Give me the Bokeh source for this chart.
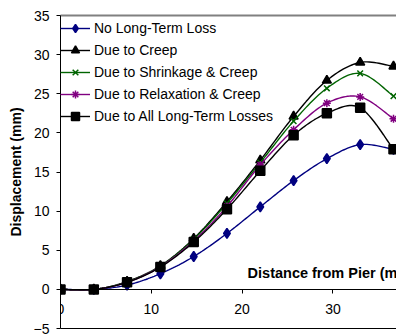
from bokeh.plotting import figure
from bokeh.models import LinearAxis, FixedTicker, Label, Legend, LegendItem
from bokeh.embed import file_html
from bokeh.resources import INLINE
import numpy as np

# ---- data ----
distance = [0, 3.67, 7.33, 11.0, 14.67, 18.33, 22.0, 25.67, 29.33, 33.0, 36.67]
no_loss = [0, 0, 0.55, 2.0, 4.2, 7.15, 10.55, 13.9, 16.7, 18.5, 17.9]
creep = [0, 0, 1.0, 3.0, 6.5, 11.2, 16.5, 22.1, 26.7, 29.0, 28.5]
shrink_creep = [0, 0, 0.95, 2.95, 6.4, 11.0, 16.2, 21.5, 25.7, 27.6, 24.7]
relax_creep = [0, 0, 0.9, 2.9, 6.2, 10.6, 15.9, 20.4, 23.8, 24.6, 21.8]
all_losses = [0, 0, 0.9, 2.85, 6.05, 10.25, 15.15, 19.7, 22.5, 23.2, 17.9]
x_ticks = [0, 10, 20, 30]
y_ticks = [-5, 0, 5, 10, 15, 20, 25, 30, 35]

series = [
    ("No Long-Term Loss", no_loss, "#000080", "diamond", 10),
    ("Due to Creep", creep, "black", "triangle", 9),
    ("Due to Shrinkage & Creep", shrink_creep, "#006400", "x", 8),
    ("Due to Relaxation & Creep", relax_creep, "#800080", "asterisk", 8),
    ("Due to All Long-Term Losses", all_losses, "black", "square", 9),
]


def smooth(xs, ys, n=16):
    """Excel-like smoothed line (Catmull-Rom Bezier) through the data points."""
    P = np.column_stack([xs, ys]).astype(float)
    out = [P[0]]
    for i in range(len(P) - 1):
        p0 = P[i - 1] if i > 0 else P[i]
        p1, p2 = P[i], P[i + 1]
        p3 = P[i + 2] if i + 2 < len(P) else P[i + 1]
        c1 = p1 + (p2 - p0) / 6.0
        c2 = p2 - (p3 - p1) / 6.0
        for t in np.linspace(0, 1, n + 1)[1:]:
            b = ((1 - t) ** 3) * p1 + 3 * ((1 - t) ** 2) * t * c1 + 3 * (1 - t) * t * t * c2 + t ** 3 * p2
            out.append(b)
    out = np.array(out)
    return out[:, 0], out[:, 1]


p = figure(width=396, height=335, x_range=(0, 37.0), y_range=(-5, 35),
           output_backend="svg", toolbar_location=None,
           min_border_left=60, min_border_right=0, min_border_top=15, min_border_bottom=7,
           x_axis_location=None, y_axis_location=None)
p.grid.visible = False
p.outline_line_color = None
p.background_fill_color = "white"
p.border_fill_color = "white"

FONT = "Liberation Sans"

# y axis
yax = LinearAxis(ticker=FixedTicker(ticks=y_ticks), axis_label="Displacement (mm)")
yax.axis_line_color = "black"
yax.major_tick_line_color = "black"
yax.major_tick_out = 4
yax.major_tick_in = 0
yax.minor_tick_line_color = None
yax.major_label_standoff = 7
yax.major_label_text_font = FONT
yax.major_label_text_font_size = "14px"
yax.major_label_text_color = "black"
yax.axis_label_text_font = FONT
yax.axis_label_text_font_size = "14px"
yax.axis_label_text_font_style = "bold"
yax.axis_label_text_color = "black"
yax.axis_label_standoff = 7
p.add_layout(yax, "left")

# bottom frame line
bax = LinearAxis(ticker=FixedTicker(ticks=[]))
bax.axis_line_color = "black"
bax.major_tick_line_color = None
bax.minor_tick_line_color = None
bax.major_label_text_font_size = "0px"
p.add_layout(bax, "below")

# top frame line
tax = LinearAxis(ticker=FixedTicker(ticks=[]))
tax.axis_line_color = "#808080"
tax.axis_line_width = 2
tax.major_tick_line_color = None
tax.minor_tick_line_color = None
tax.major_label_text_font_size = "0px"
p.add_layout(tax, "above")

# x axis crossing at y = 0
xax = LinearAxis(ticker=FixedTicker(ticks=x_ticks), fixed_location=0)
xax.axis_line_color = "black"
xax.major_tick_line_color = "black"
xax.major_tick_out = 4
xax.major_tick_in = 0
xax.minor_tick_line_color = None
xax.major_label_standoff = 11
xax.major_label_text_font = FONT
xax.major_label_text_font_size = "14px"
xax.major_label_text_color = "black"
p.add_layout(xax, "below")

items = []
for name, ys, color, marker, size in series:
    sx, sy = smooth(distance, ys)
    ln = p.line(sx, sy, line_color=color, line_width=1.4)
    sc = p.scatter(distance, ys, marker=marker, size=size, fill_color=color,
                   line_color=color, line_width=1.5)
    items.append(LegendItem(label=name, renderers=[ln, sc]))

legend = Legend(items=items, location=(0, 202), margin=0, padding=4,
                spacing=2, glyph_width=30, glyph_height=20, label_height=20,
                label_standoff=4, label_text_font=FONT, label_text_font_size="14px",
                label_text_color="black", border_line_color=None,
                background_fill_alpha=0)
p.add_layout(legend)

p.add_layout(Label(x=20.6, y=1.1, text="Distance from Pier (m)", text_font=FONT,
                   text_font_size="14.5px", text_font_style="bold", text_color="black",
                   text_baseline="bottom"))

open("out.html", "w").write(file_html(p, INLINE))
